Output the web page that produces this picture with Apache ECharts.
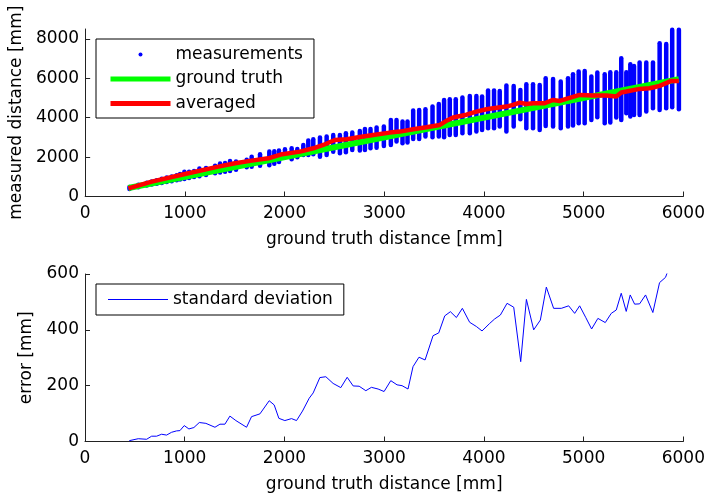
<!DOCTYPE html>
<html>
<head>
<meta charset="utf-8">
<script src="https://cdn.jsdelivr.net/npm/echarts@6/dist/echarts.min.js"></script>
<style>html,body{margin:0;padding:0;background:#fff}#c{width:708px;height:498px}</style>
</head>
<body>
<div id="c"></div>
<script>
// ---- data (mm) ----
const stripeDistance = [444,534,618,668,718,768,818,868,918,952,995,1042,1092,1146,1212,1303,1353,1403,1453,1513,1620,1670,1754,1847,1897,1944,
  2004,2071,2128,2188,2238,2288,2355,2422,2488,2555,2615,2679,2755,
  2806,2862,2923,2996,3066,3123,3183,3233,3290,3350,3413,3484,3547,3600,3657,3717,3784,3858,3924,3981,4041,4101,4158,4225,4298,4365,
  4425,4492,4559,4619,4693,4770,4843,4893,4950,5010,5077,5137,5211,5267,5327,5377,5428,5468,5505,5561,5628,5695,5762,5828,5888,5955];
const stripeMin = [380,470,560,610,650,690,740,780,830,860,890,940,990,1030,1090,1180,1220,1260,1290,1360,1480,1510,1560,1590,1660,1750,
  1989,1888,1989,2108,2108,2142,2023,2108,2277,2192,2243,2362,2330,
  2362,2446,2480,2565,2616,2785,2700,2734,2920,2920,3039,3005,3039,3005,3124,3124,3208,3208,3293,3378,3462,3462,3547,3293,3547,3919,
  3462,3462,3378,3581,3547,3462,3547,3598,3716,3716,3885,4021,3716,3750,4004,3885,4224,4055,4139,4139,4309,4478,4393,4478,4529,4427];
const stripeMax = [480,600,700,760,820,900,960,1020,1080,1140,1260,1250,1300,1420,1450,1560,1680,1700,1800,1780,1860,2020,2150,2280,2290,2330,
  2396,2446,2413,2616,2836,2904,2988,3039,3124,3124,3208,3242,3330,
  3428,3428,3496,3547,3885,3885,3801,3801,4360,4393,4427,4563,4698,4901,4935,4935,5020,5104,5104,5071,5375,5375,5358,5629,5612,5409,
  5697,5697,5663,6002,5968,5832,6002,6205,6340,6374,6086,6290,6205,6306,6306,7018,6306,6713,6628,6797,6797,6797,7779,7745,8457,8457];
const truthDistance = [434, 5955];
const truthValue = [434, 5955];
const avgDistance = [434,668,1002,1336,1503,1670,1837,1960,2155,2288,2388,2505,2622,2755,2889,3056,3156,3290,3424,3557,3624,3691,3824,3924,4024,4091,4225,4292,4359,4425,4492,4609,4693,4760,4826,4960,5094,5227,5327,5377,5428,5561,5661,5762,5879,5955];
const avgValue = [415,753,1143,1515,1684,1820,1938,2130,2277,2446,2616,2870,2904,3020,3124,3242,3293,3411,3513,3632,3840,4010,4150,4309,4427,4478,4563,4647,4766,4698,4732,4732,4901,4850,4952,5155,5121,5121,5071,5274,5325,5460,5494,5612,5866,5866];
const stdDistance = [444,534,618,668,718,768,818,868,918,952,995,1042,1092,1146,1212,1303,1353,1403,1453,1513,1620,1670,1754,1847,1897,1944,2004,2071,2121,2181,2248,2288,2355,2415,2488,2565,2629,2689,2749,2816,2872,2939,2999,3066,3129,3179,3239,3289,3349,3410,3490,3547,3607,3664,3724,3784,3857,3924,3981,4058,4108,4165,4232,4299,4369,4426,4499,4566,4626,4699,4776,4850,4910,4960,5020,5080,5143,5217,5277,5327,5377,5427,5467,5511,5561,5621,5694,5761,5821,5885];
const stdValue = [3,10,8,19,19,26,23,33,38,39,57,45,50,68,65,51,62,62,91,75,51,89,99,146,131,83,75,82,75,109,155,174,229,232,208,193,230,199,198,182,194,188,179,218,203,200,188,268,302,292,379,389,450,465,444,477,427,412,396,423,439,453,495,481,286,509,400,435,553,477,477,486,459,486,445,403,441,426,459,471,531,466,525,492,493,525,462,569,588,650];
const xTicks = [0,1000,2000,3000,4000,5000,6000];
const topYTicks = [0,2000,4000,6000,8000];
const bottomYTicks = [0,200,400,600];

const FONT = 'DejaVu Sans';
const AX = '#222';
const txt = {color:'#000', fontSize:17, fontFamily:FONT};
const plain = v => String(v);
const noSymbol = {color:'transparent', borderColor:'transparent', borderWidth:0};

function xAxis(gi){
  return {type:'value', gridIndex:gi, min:0, max:6000, interval:1000,
    name:'ground truth distance [mm]', nameLocation:'middle', nameGap:35, nameTextStyle:txt,
    axisLine:{show:true, onZero:false, lineStyle:{color:AX, width:1}},
    axisTick:{show:true, inside:true, length:5, lineStyle:{color:AX}},
    axisLabel:Object.assign({margin:9, customValues:xTicks, formatter:plain}, txt),
    splitLine:{show:false}};
}
function yAxis(gi, max, interval, ticks, name, gap){
  return {type:'value', gridIndex:gi, min:0, max:max, interval:interval,
    name:name, nameLocation:'middle', nameRotate:90, nameGap:gap, nameTextStyle:txt,
    axisLine:{show:true, onZero:false, lineStyle:{color:AX, width:1}},
    axisTick:{show:true, inside:true, length:5, lineStyle:{color:AX}, customValues:ticks},
    axisLabel:Object.assign({margin:6, customValues:ticks, formatter:plain}, txt),
    splitLine:{show:false}};
}

const chart = echarts.init(document.getElementById('c'), null, {renderer:'canvas'});
chart.setOption({
  animation:false,
  backgroundColor:'#fff',
  textStyle:{fontFamily:FONT},
  grid:[
    {left:85, top:29, width:599, height:167.5},
    {left:85, top:274, width:599, height:167.5}
  ],
  xAxis:[xAxis(0), xAxis(1)],
  yAxis:[
    yAxis(0, 8500, 2000, topYTicks, 'measured distance [mm]', 60),
    yAxis(1, 600, 200, bottomYTicks, 'error [mm]', 50)
  ],
  legend:[
    {orient:'vertical', left:96, top:39, padding:[7,11,6,12], itemGap:7.5, itemWidth:60, itemHeight:4,
     borderColor:'#000', borderWidth:1, backgroundColor:'#fff', selectedMode:false, textStyle:txt,
     data:[
       {name:'measurements', icon:'circle', itemStyle:{color:'#0000ff'}},
       {name:'ground truth', itemStyle:noSymbol, lineStyle:{width:5, color:'#00ff00'}},
       {name:'averaged', itemStyle:noSymbol, lineStyle:{width:5, color:'#ff0000'}}
     ]},
    {orient:'vertical', left:96, top:284, padding:[7,11,7,12], itemWidth:60, itemHeight:5,
     borderColor:'#000', borderWidth:1, backgroundColor:'#fff', selectedMode:false, textStyle:txt,
     data:[{name:'standard deviation', icon:'path://M0,0H60V1H0Z',
            itemStyle:{color:'#0000ff', borderWidth:0}}]}
  ],
  series:[
    {name:'measurements', type:'custom', xAxisIndex:0, yAxisIndex:0,
     itemStyle:{color:'#0000ff'},
     encode:{x:0, y:[1,2]},
     data:stripeDistance.map((d,i)=>[d, stripeMin[i], stripeMax[i]]),
     renderItem:function(params, api){
       const p1 = api.coord([api.value(0), api.value(1)]);
       const p2 = api.coord([api.value(0), api.value(2)]);
       return {type:'line', shape:{x1:p1[0], y1:p1[1], x2:p2[0], y2:p2[1]},
         style:{stroke:'#0000ff', lineWidth:4.5, lineCap:'round'}};
     }},
    {name:'ground truth', type:'line', xAxisIndex:0, yAxisIndex:0, symbol:'none',
     lineStyle:{color:'#00ff00', width:6}, itemStyle:{color:'#00ff00'},
     data:truthDistance.map((d,i)=>[d, truthValue[i]])},
    {name:'averaged', type:'line', xAxisIndex:0, yAxisIndex:0, symbol:'none',
     lineStyle:{color:'#ff0000', width:4.5}, itemStyle:{color:'#ff0000'},
     data:avgDistance.map((d,i)=>[d, avgValue[i]])},
    {name:'standard deviation', type:'line', xAxisIndex:1, yAxisIndex:1, symbol:'none', clip:true,
     lineStyle:{color:'#0000ff', width:1}, itemStyle:{color:'#0000ff'},
     data:stdDistance.map((d,i)=>[d, stdValue[i]])}
  ]
});
</script>
</body>
</html>
